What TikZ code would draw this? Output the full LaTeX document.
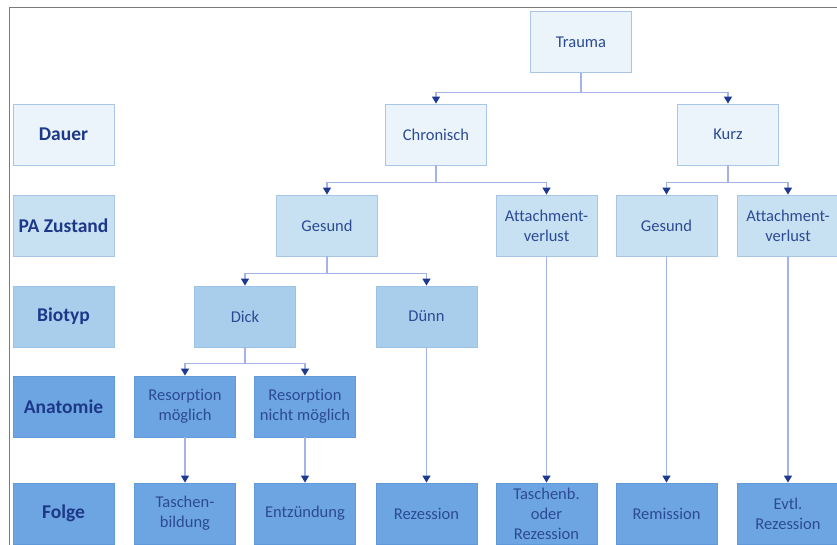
\documentclass[tikz,border=0pt]{standalone}
\usepackage{fontspec}
\setmainfont{Carlito}[Ligatures=NoCommon]
\usetikzlibrary{arrows.meta}
\definecolor{lvlA}{HTML}{EAF4FA}
\definecolor{lvlB}{HTML}{C7E1F2}
\definecolor{lvlC}{HTML}{A9CEEC}
\definecolor{lvlD}{HTML}{6DA5E2}
\definecolor{edgeA}{HTML}{A9C6E6}
\definecolor{edgeD}{HTML}{5E97D8}
\definecolor{txtc}{HTML}{2C4A94}
\definecolor{headc}{HTML}{1D3888}
\definecolor{linkc}{HTML}{A4B2E6}
\definecolor{tipc}{HTML}{1E3A8F}
\definecolor{framec}{HTML}{7A7A7A}
\tikzset{
  box/.style={draw=edgeA, line width=0.8pt, minimum width=101pt, minimum height=61pt,
    align=center, text=txtc, inner sep=2pt, font=\fontsize{16.5}{20}\selectfont},
  rowA/.style={box, fill=lvlA},
  rowB/.style={box, fill=lvlB},
  rowC/.style={box, fill=lvlC, draw=lvlC!80!edgeD},
  rowD/.style={box, fill=lvlD, draw=edgeD!80!lvlD},
  head/.style={font=\fontsize{19.5}{22}\selectfont\bfseries, text=headc},
  link/.style={draw=linkc, line width=1.2pt, -{Triangle[width=8pt,length=7pt,color=tipc]}}
}
\begin{document}
\begin{tikzpicture}[x=1pt,y=-1pt]
\useasboundingbox[fill=white] (0,0) rectangle (837,545);
\draw[framec, line width=1.8pt] (9.5,545) -- (9.5,7.5) -- (837,7.5);

\node[rowA, head] (dauer) at (63.5,134.5) {Dauer};
\node[rowB, head] (zustand) at (63.5,225.5) {PA Zustand};
\node[rowC, head] (biotyp) at (63.5,316.5) {Biotyp};
\node[rowD, head] (anatomie) at (63.5,406.5) {Anatomie};
\node[rowD, head] (folge) at (63.5,513.5) {Folge};

\node[rowA] (trauma) at (581,42) {Trauma};
\node[rowA] (chron) at (436,134.5) {Chronisch};
\node[rowA] (kurz) at (728,134.5) {Kurz};

\node[rowB] (gesundA) at (327,225.5) {Gesund};
\node[rowB] (attA) at (546.5,225.5) {Attachment-\\verlust};
\node[rowB] (gesundB) at (666.5,225.5) {Gesund};
\node[rowB] (attB) at (788,225.5) {Attachment-\\verlust};

\node[rowC] (dick) at (245,316.5) {Dick};
\node[rowC] (duenn) at (426.5,316.5) {Dünn};

\node[rowD] (resA) at (185,406.5) {Resorption\\möglich};
\node[rowD] (resB) at (305,406.5) {Resorption\\nicht möglich};

\node[rowD] (tasche) at (185,513.5) {Taschen-\\bildung};
\node[rowD] (entz) at (305,513.5) {Entzündung};
\node[rowD] (rezA) at (426.5,513.5) {Rezession};
\node[rowD] (taschrez) at (546.5,513.5) {Taschenb.\\oder\\Rezession};
\node[rowD] (remis) at (666.5,513.5) {Remission};
\node[rowD] (rezB) at (788,513.5) {Evtl.\\Rezession};

\draw[link] (trauma.south) -- ++(0,20) -| (chron.north);
\draw[link] (trauma.south) -- ++(0,20) -| (kurz.north);
\draw[link] (chron.south) -- ++(0,17) -| (gesundA.north);
\draw[link] (chron.south) -- ++(0,17) -| (attA.north);
\draw[link] (kurz.south) -- ++(0,17) -| (gesundB.north);
\draw[link] (kurz.south) -- ++(0,17) -| (attB.north);
\draw[link] (gesundA.south) -- ++(0,17) -| (dick.north);
\draw[link] (gesundA.south) -- ++(0,17) -| (duenn.north);
\draw[link] (dick.south) -- ++(0,16) -| (resA.north);
\draw[link] (dick.south) -- ++(0,16) -| (resB.north);
\draw[link] (resA) -- (tasche);
\draw[link] (resB) -- (entz);
\draw[link] (duenn) -- (rezA);
\draw[link] (attA) -- (taschrez);
\draw[link] (gesundB) -- (remis);
\draw[link] (attB) -- (rezB);
\end{tikzpicture}
\end{document}
